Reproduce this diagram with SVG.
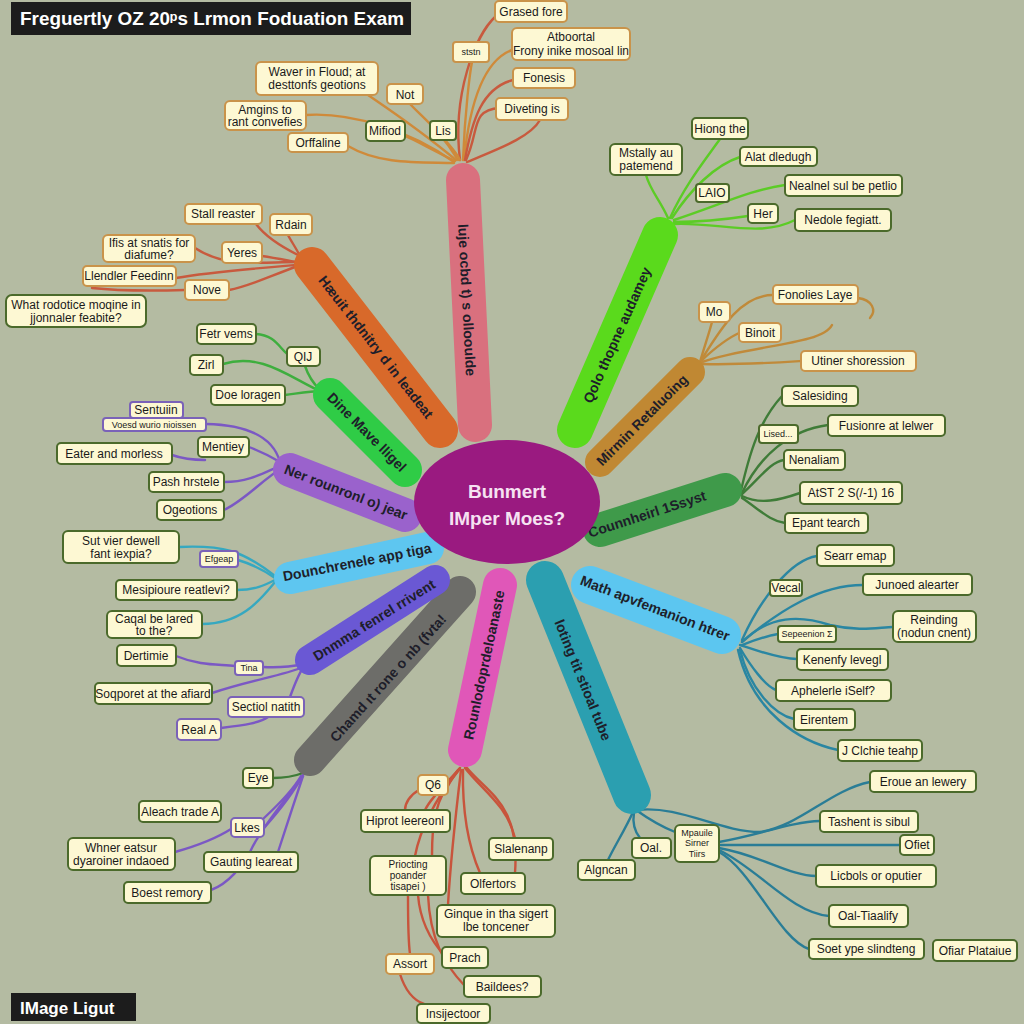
<svg xmlns="http://www.w3.org/2000/svg" width="1024" height="1024" viewBox="0 0 1024 1024">
<style>
.bg{fill:#b4bba2}
.bar{fill:none;stroke-linecap:round}
.bt{font-family:"Liberation Sans",Arial,sans-serif;font-size:14px;font-weight:bold;fill:#1e1e2a;text-anchor:middle;dominant-baseline:central}
.b rect{fill:#fdf8d3;stroke:#4b6a2b;stroke-width:2}
.b.o rect{stroke:#c9934a}
.b.p rect{stroke:#7a62b8}
.b text{font-family:"Liberation Sans",Arial,sans-serif;font-size:12px;fill:#1a1a1a;text-anchor:middle}
.b text.s{font-size:9px}
.b text.m{font-size:10px}
.cn path{fill:none;stroke-width:2.4;stroke-linecap:round}
.k1{stroke:#cf8a3a}.k2{stroke:#c85a3e}.k3{stroke:#3eae3e}.k4{stroke:#7b58c4}.k5{stroke:#36a8c0}
.k6{stroke:#c8543c}.k7{stroke:#2a7d96}.k8{stroke:#2a86a2}.k9{stroke:#3f7c38}.k10{stroke:#c08a3a}.k11{stroke:#5ccc26}
</style>
<rect class="bg" x="0" y="0" width="1024" height="1024"/>

<g id="connectors" class="cn">
<!-- pink branch -->
<path class="k2" d="M460,160 C452,95 475,35 496,16"/>
<path class="k1" d="M463,160 C465,110 470,72 472,62"/>
<path class="k1" d="M464,160 C470,100 485,60 512,50"/>
<path class="k2" d="M465,160 C472,120 482,88 513,80"/>
<path class="k2" d="M467,162 C495,150 530,138 540,120"/>
<path class="k2" d="M466,160 C480,130 470,110 500,108"/>
<path class="k1" d="M458,160 C440,130 420,115 410,104"/>
<path class="k1" d="M460,160 C456,152 450,146 445,140"/>
<path class="k1" d="M456,160 C420,130 390,110 368,95"/>
<path class="k1" d="M454,162 C410,130 350,112 306,115"/>
<path class="k1" d="M455,161 C432,150 415,140 405,136"/>
<path class="k1" d="M454,163 C420,162 380,165 348,146"/>
<!-- orange branch -->
<path class="k2" d="M298,255 C280,246 265,236 256,224"/>
<path class="k2" d="M300,256 C296,248 291,241 288,235"/>
<path class="k2" d="M296,262 C260,262 225,268 195,248"/>
<path class="k2" d="M296,262 C285,260 275,258 262,256"/>
<path class="k2" d="M296,265 C260,268 210,272 176,278"/>
<path class="k2" d="M298,266 C270,276 250,286 229,290"/>
<path class="k2" d="M185,290 C150,291 110,290 92,288"/>
<!-- Dine green -->
<path class="k3" d="M256,334 C276,335 280,350 290,356"/>
<path class="k3" d="M305,366 C308,375 312,382 320,390"/>
<path class="k3" d="M223,364 C262,352 290,378 322,392"/>
<path class="k3" d="M285,395 C300,393 310,391 322,391"/>
<!-- purple -->
<path class="k4" d="M206,424 C252,425 274,440 280,462"/>
<path class="k4" d="M249,447 C262,452 270,456 280,462"/>
<path class="k4" d="M172,455 C186,460 198,460 205,460"/>
<path class="k4" d="M224,482 C250,482 265,472 282,465"/>
<path class="k4" d="M224,510 C245,500 262,480 282,468"/>
<!-- sky -->
<path class="k5" d="M179,547 C222,545 242,550 275,576"/>
<path class="k5" d="M238,560 C255,565 265,571 275,578"/>
<path class="k5" d="M237,590 C255,590 265,585 275,580"/>
<path class="k5" d="M202,624 C242,624 260,600 275,582"/>
<!-- violet -->
<path class="k4" d="M176,656 C200,666 220,664 235,666"/>
<path class="k4" d="M263,667 C280,668 290,667 303,664"/>
<path class="k4" d="M212,693 C250,680 282,676 303,667"/>
<path class="k4" d="M290,697 C294,686 298,675 303,668"/>
<path class="k4" d="M221,728 C245,725 260,723 268,717"/>
<!-- gray -->
<path class="k9" d="M273,778 C285,778 295,776 303,773"/>
<path class="k4" d="M264,828 C280,810 295,790 303,775"/>
<path class="k4" d="M175,852 C200,845 220,836 231,829"/>
<path class="k4" d="M250,852 C260,830 285,800 303,776"/>
<path class="k4" d="M278,852 C285,830 295,800 303,776"/>
<path class="k4" d="M211,890 C225,885 232,876 236,872"/>
<path class="k4" d="M301,776 C290,795 270,812 262,820"/>
<!-- magenta -->
<path class="k6" d="M460,768 C455,775 451,780 448,786"/>
<path class="k6" d="M419,790 C410,795 405,803 405,810"/>
<path class="k6" d="M460,768 C440,790 430,800 425,810"/>
<path class="k6" d="M458,770 C435,800 420,830 415,856"/>
<path class="k6" d="M459,770 C432,800 432,830 432,856"/>
<path class="k6" d="M465,768 C482,790 507,805 515,838"/>
<path class="k6" d="M467,768 C490,795 520,805 515,873"/>
<path class="k6" d="M461,770 C455,820 450,870 448,905"/>
<path class="k6" d="M463,770 C462,820 470,850 480,873"/>
<path class="k6" d="M408,895 C408,920 408,940 410,954"/>
<path class="k6" d="M418,895 C420,920 430,940 445,956"/>
<path class="k6" d="M428,895 C430,940 445,965 464,985"/>
<path class="k6" d="M400,974 C405,990 413,1000 424,1004"/>
<!-- teal -->
<path class="k7" d="M633,812 C625,830 615,845 608,860"/>
<path class="k7" d="M634,812 C632,825 635,832 640,838"/>
<path class="k7" d="M636,810 C650,820 665,828 675,832"/>
<path class="k7" d="M637,810 C680,805 720,832 760,832 C800,826 830,790 870,782"/>
<path class="k7" d="M719,842 C760,835 790,822 820,821"/>
<path class="k7" d="M719,845 L900,845"/>
<path class="k7" d="M719,848 C760,855 790,876 816,876"/>
<path class="k7" d="M719,850 C760,870 790,912 829,916"/>
<path class="k7" d="M719,852 C752,870 780,940 809,949"/>
<!-- math -->
<path class="k8" d="M742,640 C760,600 790,560 817,556"/>
<path class="k8" d="M742,642 C780,610 820,585 863,585"/>
<path class="k8" d="M742,642 C770,615 800,615 830,625 C860,632 880,627 893,627"/>
<path class="k8" d="M742,645 C755,640 765,636 778,634"/>
<path class="k8" d="M740,645 C755,650 780,659 797,659"/>
<path class="k8" d="M740,648 C750,665 765,686 776,690"/>
<path class="k8" d="M740,650 C750,690 775,715 794,719"/>
<path class="k8" d="M738,650 C752,712 800,742 838,750"/>
<!-- dark green -->
<path class="k9" d="M740,495 C750,450 760,420 782,396"/>
<path class="k9" d="M742,493 C760,455 790,430 828,425"/>
<path class="k9" d="M742,494 C760,478 770,462 784,460"/>
<path class="k9" d="M742,496 C760,505 780,500 800,493"/>
<path class="k9" d="M742,498 C760,510 770,521 785,523"/>
<!-- brown -->
<path class="k10" d="M700,362 C705,345 710,330 712,322"/>
<path class="k10" d="M700,362 C720,330 740,295 773,295"/>
<path class="k10" d="M858,298 C872,300 877,310 870,318"/>
<path class="k10" d="M702,360 C715,348 728,338 739,333"/>
<path class="k10" d="M702,362 C750,345 822,345 832,325"/>
<path class="k10" d="M702,364 C740,365 770,363 801,361"/>
<!-- bright green -->
<path class="k11" d="M668,218 C660,200 650,190 646,175"/>
<path class="k11" d="M670,218 C685,185 705,160 720,139"/>
<path class="k11" d="M672,218 C690,190 715,165 740,157"/>
<path class="k11" d="M674,220 C720,205 750,190 785,185"/>
<path class="k11" d="M674,222 C700,222 722,220 748,216"/>
<path class="k11" d="M674,224 C720,222 760,238 795,220"/>
</g>

<!-- branch bars -->
<g id="branch-pink"><line class="bar" x1="463" y1="180" x2="475" y2="425" stroke="#d9707e" stroke-width="34"/><text class="bt" transform="translate(467,300) rotate(87)">luje ocbd t) s ollooulde</text></g>
<g id="branch-orange"><line class="bar" x1="312" y1="265" x2="440" y2="430" stroke="#d8692a" stroke-width="36"/><text class="bt" transform="translate(376,347) rotate(52)">Hæuit thdnitry d in leadeat</text></g>
<g id="branch-lime"><line class="bar" x1="660" y1="235" x2="575" y2="430" stroke="#5ada1c" stroke-width="36"/><text class="bt" transform="translate(617,335) rotate(-66)">Qolo thopne audamey</text></g>
<g id="branch-ochre"><line class="bar" x1="690" y1="372" x2="600" y2="462" stroke="#c08833" stroke-width="30"/><text class="bt" transform="translate(642,420) rotate(-45)">Mirmin Retaluoing</text></g>
<g id="branch-dgreen"><line class="bar" x1="600" y1="530" x2="725" y2="490" stroke="#3f9a4a" stroke-width="34"/><text class="bt" transform="translate(647,514) rotate(-18)">Counnheirl 1Ssyst</text></g>
<g id="branch-math"><line class="bar" x1="590" y1="585" x2="722" y2="635" stroke="#5cc6f0" stroke-width="38"/><text class="bt" transform="translate(655,608) rotate(21)">Math apvfemanion htrer</text></g>
<g id="branch-teal"><line class="bar" x1="545" y1="580" x2="632" y2="795" stroke="#2b9fb0" stroke-width="38"/><text class="bt" transform="translate(583,680) rotate(68)">loting tit stioal tube</text></g>
<g id="branch-magenta"><line class="bar" x1="500" y1="585" x2="465" y2="750" stroke="#e057b8" stroke-width="34"/><text class="bt" transform="translate(484,665) rotate(-78)">Rounlodoprdeloanaste</text></g>
<g id="branch-gray"><line class="bar" x1="460" y1="592" x2="310" y2="760" stroke="#6d6d69" stroke-width="32"/><text class="bt" transform="translate(388,678) rotate(-48)">Chamd ıt rone o nb (fvta!</text></g>
<g id="branch-violet"><line class="bar" x1="435" y1="580" x2="310" y2="660" stroke="#6a58d4" stroke-width="30"/><text class="bt" transform="translate(374,620) rotate(-32)">Dnmma fenrel rrivent</text></g>
<g id="branch-sky"><line class="bar" x1="428" y1="548" x2="290" y2="578" stroke="#5ec6f0" stroke-width="32"/><text class="bt" transform="translate(357,562) rotate(-11)">Dounchrenele app tiga</text></g>
<g id="branch-purple"><line class="bar" x1="290" y1="470" x2="405" y2="515" stroke="#9a62cc" stroke-width="34"/><text class="bt" transform="translate(346,492) rotate(21)">Ner rounronl o) jear</text></g>
<g id="branch-green"><line class="bar" x1="330" y1="395" x2="405" y2="470" stroke="#2fcc46" stroke-width="34"/><text class="bt" transform="translate(367,432) rotate(45)">Dine Mave lligel</text></g>

<g id="center">
<ellipse cx="507" cy="502" rx="93" ry="62" fill="#9a1a80"/>
<text x="507" y="498" font-family="Liberation Sans,Arial,sans-serif" font-size="19" font-weight="bold" fill="#f6e2f2" text-anchor="middle">Bunmert</text>
<text x="507" y="525" font-family="Liberation Sans,Arial,sans-serif" font-size="19" font-weight="bold" fill="#f6e2f2" text-anchor="middle">IMper Moes?</text>
</g>

<!-- title -->
<g id="title"><rect x="11" y="2" width="400" height="33" fill="#1c1c1c"/><text x="20" y="25" font-family="Liberation Sans,Arial,sans-serif" font-size="18" font-weight="bold" fill="#ffffff" textLength="384" lengthAdjust="spacingAndGlyphs">Freguertly OZ 20ᵖs Lrmon Foduation Exam</text></g>
<g id="footer"><rect x="11" y="993" width="125" height="28" fill="#1c1c1c"/><text x="20" y="1014" font-family="Liberation Sans,Arial,sans-serif" font-size="17" font-weight="bold" fill="#ffffff">IMage Ligut</text></g>

<!-- pink branch leaves -->
<g id="n-grased" class="b o"><rect x="495" y="1" width="72" height="21" rx="4"/><text x="531" y="16">Grased fore</text></g>
<g id="n-ststn" class="b o"><rect x="453" y="42" width="36" height="20" rx="3"/><text class="s" x="471" y="55">ststn</text></g>
<g id="n-atboortal" class="b o"><rect x="512" y="28" width="118" height="32" rx="5"/><text x="571" y="41">Atboortal</text><text x="571" y="55">Frony inike mosoal lin</text></g>
<g id="n-fonesis" class="b o"><rect x="513" y="68" width="62" height="20" rx="4"/><text x="544" y="82">Fonesis</text></g>
<g id="n-diveting" class="b o"><rect x="496" y="98" width="72" height="22" rx="4"/><text x="532" y="113">Diveting is</text></g>
<g id="n-not" class="b o"><rect x="387" y="84" width="36" height="20" rx="4"/><text x="405" y="99">Not</text></g>
<g id="n-lis" class="b"><rect x="430" y="121" width="26" height="19" rx="3"/><text x="443" y="135">Lis</text></g>
<g id="n-waver" class="b o"><rect x="256" y="62" width="122" height="33" rx="5"/><text x="317" y="76">Waver in Floud; at</text><text x="317" y="89">desttonfs geotions</text></g>
<g id="n-amgins" class="b o"><rect x="225" y="101" width="81" height="29" rx="5"/><text x="265" y="114">Amgins to</text><text x="265" y="126">rant convefies</text></g>
<g id="n-mifiod" class="b"><rect x="366" y="121" width="39" height="20" rx="4"/><text x="385" y="135">Mifiod</text></g>
<g id="n-orffaline" class="b o"><rect x="288" y="133" width="60" height="19" rx="4"/><text x="318" y="147">Orffaline</text></g>

<!-- orange branch leaves -->
<g id="n-stall" class="b o"><rect x="185" y="204" width="77" height="20" rx="4"/><text x="223" y="218">Stall reaster</text></g>
<g id="n-rdain" class="b o"><rect x="270" y="214" width="42" height="21" rx="4"/><text x="291" y="229">Rdain</text></g>
<g id="n-ifis" class="b o"><rect x="103" y="235" width="92" height="27" rx="5"/><text x="149" y="247">Ifis at snatis for</text><text x="149" y="259">diafume?</text></g>
<g id="n-yeres" class="b o"><rect x="222" y="242" width="40" height="21" rx="4"/><text x="242" y="257">Yeres</text></g>
<g id="n-llendler" class="b o"><rect x="83" y="266" width="93" height="20" rx="4"/><text x="129" y="280">Llendler Feedinn</text></g>
<g id="n-nove" class="b o"><rect x="185" y="280" width="44" height="20" rx="4"/><text x="207" y="294">Nove</text></g>
<g id="n-what" class="b"><rect x="6" y="295" width="140" height="32" rx="6"/><text x="76" y="309">What rodotice moqine in</text><text x="76" y="322">jjonnaler feabite?</text></g>

<!-- Dine green leaves -->
<g id="n-petr" class="b"><rect x="197" y="324" width="59" height="20" rx="4"/><text x="226" y="338">Fetr vems</text></g>
<g id="n-qij" class="b"><rect x="287" y="347" width="33" height="19" rx="4"/><text x="303" y="361">QIJ</text></g>
<g id="n-zirl" class="b"><rect x="190" y="355" width="33" height="20" rx="4"/><text x="206" y="369">Zirl</text></g>
<g id="n-doe" class="b"><rect x="211" y="385" width="74" height="20" rx="4"/><text x="248" y="399">Doe loragen</text></g>

<!-- purple leaves -->
<g id="n-sentuiin" class="b p"><rect x="130" y="402" width="53" height="16" rx="3"/><text x="156" y="414">Sentuiin</text></g>
<g id="n-voesd" class="b p"><rect x="103" y="418" width="103" height="13" rx="3"/><text class="s" x="154" y="428">Voesd wurio nioissen</text></g>
<g id="n-mentiey" class="b"><rect x="198" y="437" width="51" height="20" rx="4"/><text x="223" y="451">Mentiey</text></g>
<g id="n-eater" class="b"><rect x="57" y="443" width="115" height="21" rx="4"/><text x="114" y="458">Eater and morless</text></g>
<g id="n-pash" class="b"><rect x="149" y="472" width="75" height="20" rx="4"/><text x="186" y="486">Pash hrstele</text></g>
<g id="n-ogeo" class="b"><rect x="157" y="500" width="67" height="20" rx="4"/><text x="190" y="514">Ogeotions</text></g>

<!-- sky leaves -->
<g id="n-sutvier" class="b"><rect x="63" y="531" width="116" height="32" rx="5"/><text x="121" y="545">Sut vier dewell</text><text x="121" y="558">fant iexpia?</text></g>
<g id="n-efgeap" class="b p"><rect x="200" y="551" width="38" height="16" rx="3"/><text class="s" x="219" y="562">Efgeap</text></g>
<g id="n-mesip" class="b"><rect x="116" y="580" width="121" height="20" rx="4"/><text x="176" y="594">Mesipioure reatlevi?</text></g>
<g id="n-caqal" class="b"><rect x="107" y="611" width="95" height="27" rx="5"/><text x="154" y="623">Caqal be lared</text><text x="154" y="635">to the?</text></g>

<!-- violet leaves -->
<g id="n-dertimie" class="b"><rect x="117" y="645" width="59" height="21" rx="4"/><text x="146" y="660">Dertimie</text></g>
<g id="n-tina" class="b p"><rect x="235" y="661" width="28" height="14" rx="3"/><text class="s" x="249" y="671">Tina</text></g>
<g id="n-soqporet" class="b"><rect x="95" y="683" width="117" height="21" rx="4"/><text x="153" y="698">Soqporet at the afiard</text></g>
<g id="n-sectiol" class="b p"><rect x="228" y="697" width="76" height="20" rx="4"/><text x="266" y="711">Sectiol natith</text></g>
<g id="n-reala" class="b p"><rect x="177" y="719" width="44" height="21" rx="4"/><text x="199" y="734">Real A</text></g>

<!-- gray leaves -->
<g id="n-eye" class="b"><rect x="243" y="768" width="30" height="20" rx="4"/><text x="258" y="782">Eye</text></g>
<g id="n-aleach" class="b"><rect x="139" y="801" width="82" height="21" rx="4"/><text x="180" y="816">Aleach trade A</text></g>
<g id="n-lkes" class="b p"><rect x="231" y="818" width="33" height="19" rx="4"/><text x="247" y="832">Lkes</text></g>
<g id="n-whner" class="b"><rect x="68" y="838" width="107" height="32" rx="5"/><text x="121" y="852">Whner eatsur</text><text x="121" y="865">dyaroiner indaoed</text></g>
<g id="n-gauting" class="b"><rect x="204" y="852" width="94" height="20" rx="4"/><text x="251" y="866">Gauting leareat</text></g>
<g id="n-boest" class="b"><rect x="124" y="882" width="87" height="21" rx="4"/><text x="167" y="897">Boest remory</text></g>

<!-- magenta leaves -->
<g id="n-q6" class="b o"><rect x="418" y="775" width="30" height="20" rx="4"/><text x="433" y="789">Q6</text></g>
<g id="n-hiprot" class="b"><rect x="361" y="810" width="89" height="22" rx="4"/><text x="405" y="825">Hiprot leereonl</text></g>
<g id="n-slalen" class="b"><rect x="489" y="838" width="64" height="22" rx="4"/><text x="521" y="853">Slalenanp</text></g>
<g id="n-prioc" class="b"><rect x="370" y="856" width="76" height="39" rx="5"/><text class="m" x="408" y="868">Priocting</text><text class="m" x="408" y="879">poander</text><text class="m" x="408" y="890">tisapei )</text></g>
<g id="n-olfert" class="b"><rect x="461" y="873" width="64" height="21" rx="4"/><text x="493" y="888">Olfertors</text></g>
<g id="n-ginque" class="b"><rect x="437" y="905" width="118" height="32" rx="5"/><text x="496" y="918">Ginque in tha sigert</text><text x="496" y="931">lbe toncener</text></g>
<g id="n-prach" class="b"><rect x="442" y="947" width="46" height="21" rx="4"/><text x="465" y="962">Prach</text></g>
<g id="n-assort" class="b o"><rect x="386" y="954" width="48" height="20" rx="4"/><text x="410" y="968">Assort</text></g>
<g id="n-baildees" class="b"><rect x="464" y="976" width="77" height="21" rx="4"/><text x="502" y="991">Baildees?</text></g>
<g id="n-insij" class="b"><rect x="417" y="1004" width="73" height="19" rx="4"/><text x="453" y="1018">Insijectoor</text></g>

<!-- teal leaves -->
<g id="n-algncan" class="b"><rect x="578" y="860" width="57" height="20" rx="4"/><text x="606" y="874">Algncan</text></g>
<g id="n-oal" class="b"><rect x="632" y="838" width="39" height="20" rx="4"/><text x="651" y="852">Oal.</text></g>
<g id="n-mpauile" class="b"><rect x="675" y="825" width="44" height="37" rx="5"/><text class="s" x="697" y="836">Mpauile</text><text class="s" x="697" y="846">Sirner</text><text class="s" x="697" y="857">Tiirs</text></g>
<g id="n-eroue" class="b"><rect x="870" y="771" width="106" height="21" rx="4"/><text x="923" y="786">Eroue an lewery</text></g>
<g id="n-tashent" class="b"><rect x="820" y="811" width="98" height="21" rx="4"/><text x="869" y="826">Tashent is sibul</text></g>
<g id="n-ofiet" class="b"><rect x="900" y="835" width="34" height="20" rx="4"/><text x="917" y="849">Ofiet</text></g>
<g id="n-licbols" class="b"><rect x="816" y="865" width="120" height="22" rx="4"/><text x="876" y="880">Licbols or oputier</text></g>
<g id="n-oaltia" class="b"><rect x="829" y="905" width="79" height="22" rx="4"/><text x="868" y="920">Oal-Tiaalify</text></g>
<g id="n-soet" class="b"><rect x="809" y="939" width="115" height="20" rx="4"/><text x="866" y="953">Soet ype slindteng</text></g>
<g id="n-ofiar" class="b"><rect x="933" y="940" width="84" height="21" rx="4"/><text x="975" y="955">Ofiar Plataiue</text></g>

<!-- math leaves -->
<g id="n-searr" class="b"><rect x="817" y="545" width="77" height="21" rx="4"/><text x="855" y="560">Searr emap</text></g>
<g id="n-vecal" class="b"><rect x="770" y="580" width="32" height="16" rx="3"/><text x="786" y="592">Vecal</text></g>
<g id="n-junoed" class="b"><rect x="863" y="574" width="109" height="21" rx="4"/><text x="917" y="589">Junoed alearter</text></g>
<g id="n-reind" class="b"><rect x="893" y="611" width="83" height="31" rx="5"/><text x="934" y="624">Reinding</text><text x="934" y="637">(nodun cnent)</text></g>
<g id="n-sepeen" class="b"><rect x="778" y="626" width="58" height="16" rx="3"/><text class="s" x="807" y="637">Sepeenion Σ</text></g>
<g id="n-kenen" class="b"><rect x="797" y="649" width="91" height="21" rx="4"/><text x="842" y="664">Kenenfy levegl</text></g>
<g id="n-aphel" class="b"><rect x="776" y="680" width="115" height="21" rx="4"/><text x="833" y="695">Aphelerle iSelf?</text></g>
<g id="n-eirent" class="b"><rect x="794" y="709" width="61" height="21" rx="4"/><text x="824" y="724">Eirentem</text></g>
<g id="n-jclch" class="b"><rect x="838" y="740" width="84" height="21" rx="4"/><text x="880" y="755">J Clchie teahp</text></g>

<!-- dark green leaves -->
<g id="n-sales" class="b"><rect x="782" y="386" width="76" height="20" rx="4"/><text x="820" y="400">Salesiding</text></g>
<g id="n-lised" class="b"><rect x="759" y="425" width="39" height="18" rx="3"/><text class="s" x="778" y="437">Lised...</text></g>
<g id="n-fusion" class="b"><rect x="828" y="415" width="117" height="21" rx="4"/><text x="886" y="430">Fusionre at lelwer</text></g>
<g id="n-nenal" class="b"><rect x="784" y="450" width="61" height="20" rx="4"/><text x="814" y="464">Nenaliam</text></g>
<g id="n-atst" class="b"><rect x="800" y="482" width="102" height="22" rx="4"/><text x="851" y="497">AtST 2 S(/-1) 16</text></g>
<g id="n-epant" class="b"><rect x="785" y="513" width="83" height="20" rx="4"/><text x="826" y="527">Epant tearch</text></g>

<!-- ochre leaves -->
<g id="n-mo" class="b o"><rect x="699" y="302" width="31" height="20" rx="4"/><text x="714" y="316">Mo</text></g>
<g id="n-fonolies" class="b o"><rect x="773" y="285" width="85" height="19" rx="4"/><text x="815" y="299">Fonolies Laye</text></g>
<g id="n-binoit" class="b o"><rect x="739" y="323" width="42" height="19" rx="4"/><text x="760" y="337">Binoit</text></g>
<g id="n-utiner" class="b o"><rect x="801" y="351" width="115" height="20" rx="4"/><text x="858" y="365">Utiner shoression</text></g>

<!-- lime leaves -->
<g id="n-mstally" class="b"><rect x="610" y="144" width="72" height="31" rx="5"/><text x="646" y="157">Mstally au</text><text x="646" y="170">patemend</text></g>
<g id="n-hiong" class="b"><rect x="692" y="118" width="56" height="21" rx="4"/><text x="720" y="133">Hiong the</text></g>
<g id="n-alat" class="b"><rect x="740" y="147" width="77" height="19" rx="4"/><text x="778" y="161">Alat dledugh</text></g>
<g id="n-laio" class="b"><rect x="696" y="184" width="33" height="18" rx="3"/><text x="712" y="197">LAIO</text></g>
<g id="n-nealnel" class="b"><rect x="785" y="175" width="117" height="21" rx="4"/><text x="843" y="190">Nealnel sul be petlio</text></g>
<g id="n-her" class="b"><rect x="748" y="204" width="30" height="19" rx="4"/><text x="763" y="218">Her</text></g>
<g id="n-nedole" class="b"><rect x="795" y="209" width="96" height="22" rx="4"/><text x="843" y="224">Nedole fegiatt.</text></g>
</svg>
